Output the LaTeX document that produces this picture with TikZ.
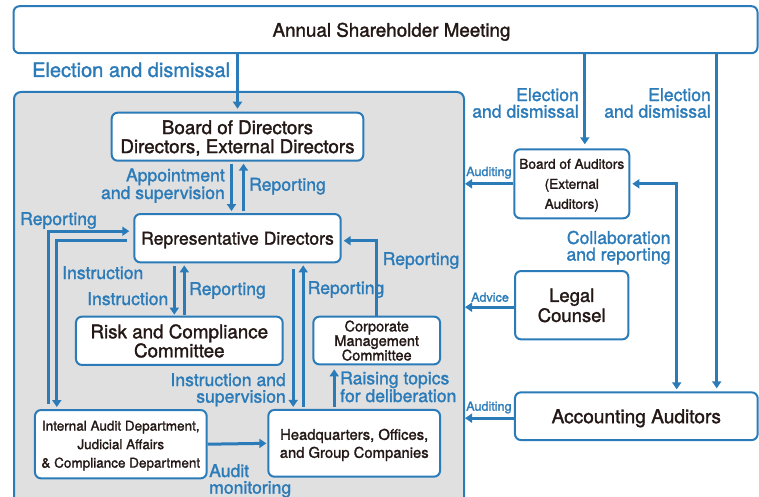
\documentclass[tikz,border=0pt]{standalone}
\usepackage{fontspec}
\setmainfont{TeX Gyre Heros}[FakeBold=1.5]
\usetikzlibrary{arrows.meta}
\definecolor{govblue}{HTML}{2B7BB9}
\definecolor{govgray}{HTML}{E0E0E0}
\definecolor{govink}{HTML}{231815}
\def\orgfs#1#2{\fontsize{#1}{#2}\selectfont}

\tikzset{
  orgbox/.style={draw=govblue, line width=2pt, rounded corners=6pt, fill=white, text=govink, align=center, inner sep=0pt, text depth=0pt},
  flow/.style={draw=govblue, line width=3pt, -{Triangle[length=7pt,width=9pt]}},
  note/.style={text=govblue, inner sep=0pt, font=\orgfs{17.6}{16.6}},
  smallnote/.style={text=govblue, inner sep=0pt, font=\orgfs{12.6}{14}},
}

\begin{document}
\begin{tikzpicture}[x=1pt,y=-1pt]
		\useasboundingbox (0,0) rectangle (759,497);
		
		%%%%% PANEL %%%%%
		\node[draw=govblue, line width=2pt, fill=govgray, rounded corners=7pt, minimum width=450pt, minimum height=440pt, anchor=north west, inner sep=0pt] (grp) at (13,91) {};
		
		%%%%% BOXES %%%%%
		\node[orgbox, minimum width=744pt, minimum height=47pt, font=\orgfs{18.8}{19}] (asm) at (385.5,29.7) {\hspace*{12pt}Annual Shareholder Meeting};
		
		\node[orgbox, minimum width=251.6pt, minimum height=48pt, font=\orgfs{18.8}{19}] (bod) at (237.5,136.7) {Board of Directors\\Directors, External Directors};
		\node[orgbox, minimum width=206.4pt, minimum height=48.3pt, font=\orgfs{17.6}{19}] (rep) at (237.5,238.2) {Representative Directors};
		\node[orgbox, minimum width=206.7pt, minimum height=48.3pt, font=\orgfs{18.8}{19}] (risk) at (179.3,340.8) {Risk and Compliance\\Committee};
		\node[orgbox, minimum width=126.7pt, minimum height=47.7pt, font=\orgfs{14.5}{14.5}] (cmc) at (376.7,340.5) {Corporate\\Management\\Committee};
		\node[orgbox, minimum width=171.7pt, minimum height=68.3pt, font=\orgfs{13.5}{18.5}] (iad) at (120.8,444.2) {Internal Audit Department,\\Judicial Affairs\\\& Compliance Department};
		\node[orgbox, minimum width=171.7pt, minimum height=66.7pt, font=\orgfs{14.8}{18}] (hq) at (354.2,443.3) {Headquarters, Offices,\\and Group Companies};
		
		\node[orgbox, minimum width=115pt, minimum height=69pt, font=\orgfs{13.6}{20}] (boa) at (571.8,183.8) {Board of Auditors\\(External\\Auditors)};
		\node[orgbox, minimum width=113.3pt, minimum height=68.3pt, font=\orgfs{18.5}{20}] (lc) at (571.7,305.2) {Legal\\Counsel};
		\node[orgbox, minimum width=242.7pt, minimum height=47.7pt, font=\orgfs{19.1}{19}] (aa) at (636.3,416.2) {Accounting Auditors};
		
		%%%%% ARROWS %%%%%
		\draw[flow, shorten >=3pt] (asm.south -| bod.north) -- (bod.north);
		\draw[flow, shorten >=4pt] ([xshift=13pt]boa.north |- asm.south) -- ([xshift=13pt]boa.north);
		\draw[flow, shorten >=3pt] ([xshift=80.4pt]aa.north |- asm.south) -- ([xshift=80.4pt]aa.north);
		
		\draw[flow, shorten <=2pt, shorten >=2pt] ([xshift=-6pt]bod.south) -- ([xshift=-6pt]rep.north);
		\draw[flow, shorten <=2pt, shorten >=2pt] ([xshift=6pt]rep.north) -- ([xshift=6pt]bod.south);
		
		\draw[flow, shorten <=3pt, shorten >=1pt] ([xshift=-5pt]risk.north |- rep.south) -- ([xshift=-5pt]risk.north);
		\draw[flow, shorten <=1pt, shorten >=2pt] ([xshift=5pt]risk.north) -- ([xshift=5pt]risk.north |- rep.south);
		
		\draw[flow, shorten <=6pt, shorten >=2pt] ([xshift=-61pt]hq.north |- rep.south) -- ([xshift=-61pt]hq.north);
		\draw[flow, shorten <=2pt, shorten >=2pt] ([xshift=-51pt]hq.north) -- ([xshift=-51pt]hq.north |- rep.south);
		
		\draw[flow, shorten <=2pt, shorten >=4pt] ([xshift=-20pt]hq.north) -- ([xshift=-20pt]hq.north |- cmc.south);
		\draw[flow, shorten >=2pt] (cmc.north) |- ([yshift=-2.5pt]rep.east);
		
		\draw[flow, shorten <=5pt, shorten >=4pt] ([xshift=-72pt]iad.north) |- ([yshift=7pt]rep.west);
		\draw[flow, shorten <=6pt, shorten >=2pt] ([yshift=-2.5pt]rep.west) -| ([xshift=-64pt]iad.north);
		\draw[flow, shorten >=1pt] (iad.east) -- (hq.west);
		
		\draw[flow] (boa.west) -- (boa.west -| grp.east);
		\draw[flow] ([yshift=-2pt]lc.west) -- ([yshift=-2pt]lc.west -| grp.east);
		\draw[flow] ([yshift=-2pt]aa.west) -- ([yshift=-2pt]aa.west -| grp.east);
		\draw[flow, {Triangle[length=7pt,width=9pt]}-{Triangle[length=7pt,width=9pt]}, shorten <=2pt, shorten >=2pt] ([xshift=40.4pt]aa.north) |- (boa.east);
		
		%%%%% LABELS %%%%%
		\node[note, font=\orgfs{20}{20}, anchor=base west] (elect) at (32,77) {Election and dismissal};
		\node[note, anchor=north east, align=right] (elect2) at (579,88) {Election\\and dismissal};
		\node[note, anchor=north east, align=right] (elect3) at (711,88) {Election\\and dismissal};
		
		\node[note, anchor=north east, align=right] (appt) at (225,168.3) {Appointment\\and supervision};
		\node[note, anchor=base west] (rep1) at (249,190.7) {Reporting};
		\node[note, anchor=base west] (rep2) at (20,225) {Reporting};
		\node[note, anchor=base west] (inst1) at (62,279) {Instruction};
		\node[note, anchor=base east] (inst2) at (168.5,305) {Instruction};
		\node[note, anchor=base west] (rep3) at (189,295) {Reporting};
		\node[note, anchor=base west] (rep4) at (307.5,294) {Reporting};
		\node[note, anchor=base west] (rep5) at (382.5,265) {Reporting};
		\node[note, anchor=north east, align=right] (instsup) at (286,373) {Instruction and\\supervision};
		\node[note, anchor=north west, align=left] (raise) at (340,371.3) {Raising topics\\for deliberation};
		\node[note, anchor=north west, align=left] (audmon) at (209,464) {Audit\\monitoring};
		\node[note, anchor=north east, align=right] (collab) at (670.7,230.6) {Collaboration\\and reporting};
		
		\node[smallnote, anchor=base west] (aud1) at (466,176) {Auditing};
		\node[smallnote, anchor=base west] (adv) at (471,301.7) {Advice};
		\node[smallnote, anchor=base west] (aud2) at (466,410.7) {Auditing};
		
	\end{tikzpicture}
\end{document}
